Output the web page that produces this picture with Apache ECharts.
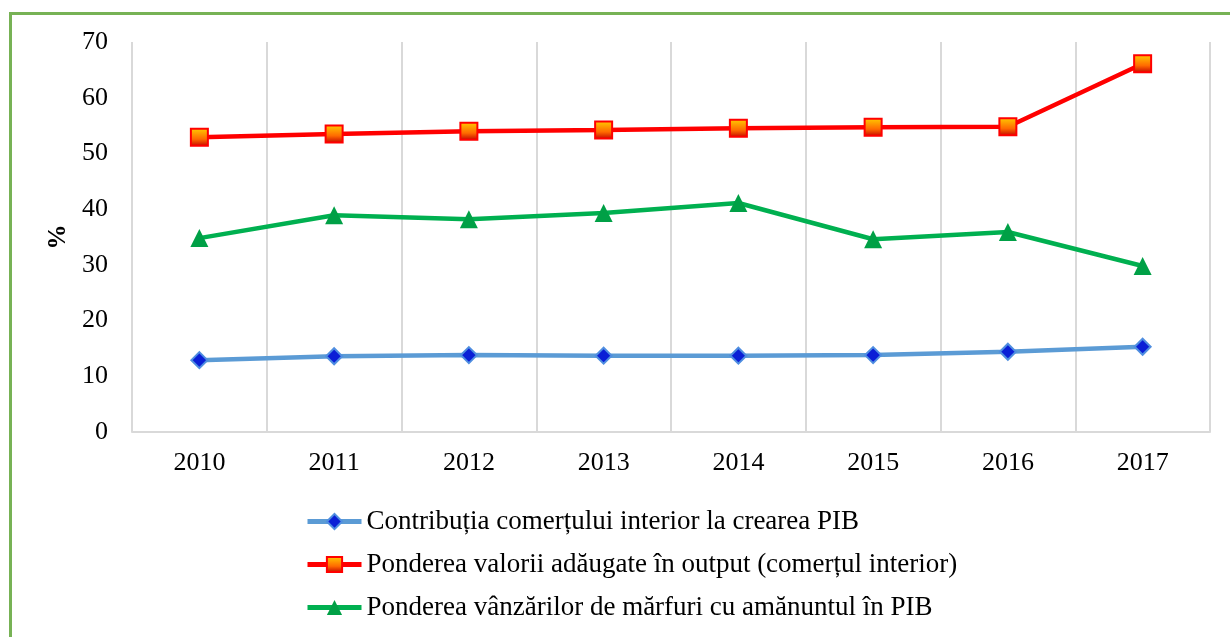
<!DOCTYPE html>
<html>
<head>
<meta charset="utf-8">
<script src="https://cdn.jsdelivr.net/npm/echarts@6/dist/echarts.min.js"></script>
<style>
html, body { margin: 0; padding: 0; background: #fff; }
#frame {
  position: absolute; left: 9px; top: 12px; width: 1300px; height: 700px;
  border-left: 3px solid #77b255; border-top: 3px solid #77b255;
}
#chart { position: absolute; left: 0; top: 0; width: 1230px; height: 637px; }
</style>
</head>
<body>
<div id="frame"></div>
<div id="chart"></div>
<script>
const years = ['2010', '2011', '2012', '2013', '2014', '2015', '2016', '2017']
const contributia = [12.9, 13.6, 13.8, 13.7, 13.7, 13.8, 14.4, 15.3]
const ponderea = [52.9, 53.5, 54.0, 54.2, 54.5, 54.7, 54.8, 66.1]
const vanzari = [34.8, 38.9, 38.2, 39.3, 41.1, 34.6, 35.9, 29.8]

const font = 'Liberation Serif'
const chart = echarts.init(document.getElementById('chart'))

const option = {
  animation: false,
  grid: { left: 132, right: 20, top: 42, bottom: 205 },
  legend: {
    orient: 'vertical',
    left: 300,
    top: 503,
    itemWidth: 54,
    itemHeight: 19,
    itemGap: 16,
    lineStyle: { width: 5 },
    textStyle: { fontFamily: font, fontSize: 27, color: '#000' }
  },
  xAxis: {
    type: 'category',
    data: years,
    boundaryGap: true,
    axisLine: { lineStyle: { color: '#d9d9d9', width: 2 } },
    axisTick: { show: false },
    axisLabel: { fontFamily: font, fontSize: 26, color: '#000', margin: 18 },
    splitLine: { show: true, lineStyle: { color: '#d9d9d9', width: 2 } }
  },
  yAxis: {
    type: 'value',
    min: 0, max: 70, interval: 10,
    name: '%',
    nameLocation: 'middle',
    nameRotate: 90,
    nameGap: 56,
    nameTextStyle: { fontFamily: font, fontSize: 25, fontWeight: 'bold', color: '#000' },
    axisLine: { show: false },
    axisTick: { show: false },
    splitLine: { show: false },
    axisLabel: { fontFamily: font, fontSize: 26, color: '#000', margin: 24 }
  },
  series: [
    {
      name: 'Contribuția comerțului interior la crearea PIB',
      type: 'line',
      data: contributia,
      symbol: 'diamond',
      symbolSize: 16,
      lineStyle: { color: '#5b9bd5', width: 4.5 },
      itemStyle: { color: '#0a1fd6', borderColor: '#4f8ee0', borderWidth: 2 }
    },
    {
      name: 'Ponderea valorii adăugate în output (comerțul interior)',
      type: 'line',
      data: ponderea,
      symbol: 'rect',
      symbolSize: 17,
      lineStyle: { color: '#ff0000', width: 4.5 },
      itemStyle: {
        color: new echarts.graphic.LinearGradient(0, 0, 0, 1, [
          { offset: 0, color: '#ffd000' },
          { offset: 0.6, color: '#ff6a00' },
          { offset: 1, color: '#c00000' }
        ]),
        borderColor: '#ff0000',
        borderWidth: 2
      }
    },
    {
      name: 'Ponderea vânzărilor de mărfuri cu amănuntul în PIB',
      type: 'line',
      data: vanzari,
      symbol: 'triangle',
      symbolSize: 18,
      lineStyle: { color: '#00b050', width: 4.5 },
      itemStyle: { color: '#00a046' }
    }
  ]
}

chart.setOption(option)
</script>
</body>
</html>
